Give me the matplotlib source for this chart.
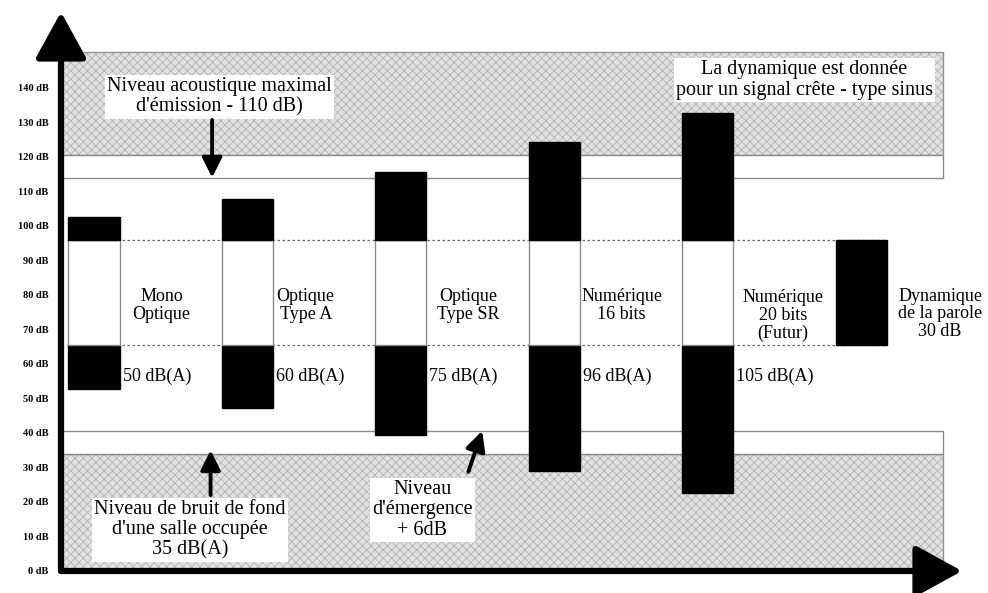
import numpy as np
import matplotlib
matplotlib.use('Agg')
import matplotlib.pyplot as plt

plt.rcParams['font.family'] = ['Liberation Serif', 'DejaVu Serif']
plt.rcParams['hatch.linewidth'] = 0.6

# chart data (dB)
names = ['Mono\nOptique', 'Optique\nType A', 'Optique\nType SR',
         'Numérique\n16 bits', 'Numérique\n20 bits\n(Futur)']
dyn_labels = ['50 dB(A)', '60 dB(A)', '75 dB(A)', '96 dB(A)', '105 dB(A)']
bar_bottom = [52.8, 47.2, 39.4, 29.0, 22.6]
bar_top = [102.6, 107.8, 115.7, 124.3, 132.8]
speech_low = 65.5
speech_high = 95.9
speech_label = 'Dynamique\nde la parole\n30 dB'
noise_floor = 34.0
emergence = 40.6
max_level = 114.0
top_zone = (120.5, 150.4)
yticks = list(range(0, 150, 10))

fig = plt.figure(figsize=(9.88, 5.93), dpi=100)
ax = fig.add_axes([61/988, 22/593, 901/988, 559/593])
ax.set_xlim(-0.215, 5.658)
ax.set_ylim(0, 162)
for s in ax.spines.values():
    s.set_visible(False)
ax.set_xticks([])
ax.set_yticks(yticks)
ax.set_yticklabels([f'{t} dB' for t in yticks], fontsize=7.5, fontweight='bold')
ax.tick_params(axis='y', length=0, pad=9)

x_right = 5.535
for y0, y1 in [top_zone, (0, noise_floor)]:
    ax.fill_between([-0.215, x_right], y0, y1, facecolor='#e2e2e2',
                    edgecolor='#b4b4b4', hatch='xxxx', lw=0, zorder=1)
    ax.fill_between([-0.215, x_right], y0, y1, facecolor='none',
                    edgecolor='#909090', lw=1, zorder=1)
ax.fill_between([-0.215, x_right], max_level, top_zone[0], facecolor='white',
                edgecolor='#8a8a8a', lw=1, zorder=1)
ax.fill_between([-0.215, x_right], noise_floor, emergence, facecolor='white',
                edgecolor='#8a8a8a', lw=1, zorder=1)

# dotted speech limits
for lvl in [speech_low, speech_high]:
    ax.plot([-0.176, 5.17], [lvl, lvl], color='#666666', lw=0.9,
            ls=(0, (2, 2)), zorder=2)

x = np.arange(len(names))
w = 0.333
bb = np.array(bar_bottom)
bt = np.array(bar_top)
ax.bar(x, speech_low - bb, w, bottom=bb, color='black', edgecolor='black', lw=1, zorder=3)
ax.bar(x, speech_high - speech_low, w, bottom=speech_low, color='white',
       edgecolor='#8a8a8a', lw=1, zorder=3)
ax.bar(x, bt - speech_high, w, bottom=speech_high, color='black', edgecolor='black', lw=1, zorder=3)
ax.bar([5], [speech_high - speech_low], w, bottom=speech_low, color='black',
       edgecolor='black', lw=1, zorder=3)

name_dx = [0.44, 0.38, 0.44, 0.44, 0.49]
name_y = [77, 77, 77, 77, 74]
for i in range(len(names)):
    ax.text(x[i] + name_dx[i], name_y[i], names[i], ha='center', va='center',
            fontsize=13, linespacing=1.05, zorder=5)
    ax.text(x[i] + w / 2 + 0.02, 56.5, dyn_labels[i], ha='left', va='center',
            fontsize=13, zorder=5)
ax.text(5 + 0.515, 74.5, speech_label, ha='center', va='center', fontsize=13,
        linespacing=1.05, zorder=5)

box = dict(facecolor='white', edgecolor='none', pad=1.5)
arr = dict(arrowstyle='-|>', lw=2.8, color='black', mutation_scale=30,
           shrinkA=0, shrinkB=0)
ax.text(0.82, 137.4, "Niveau acoustique maximal\nd'émission - 110 dB)", ha='center',
        va='center', fontsize=14.5, linespacing=1.1, bbox=box, zorder=6)
ax.annotate('', xy=(0.77, max_level), xytext=(0.77, 130.7), arrowprops=arr, zorder=6)

ax.text(4.63, 142.3, 'La dynamique est donnée\npour un signal crête - type sinus',
        ha='center', va='center', fontsize=14.5, linespacing=1.1, bbox=box, zorder=6)

ax.text(0.626, 11.9, "Niveau de bruit de fond\nd'une salle occupée\n35 dB(A)",
        ha='center', va='center', fontsize=14.5, linespacing=1.1, bbox=box, zorder=6)
ax.annotate('', xy=(0.76, noise_floor + 1), xytext=(0.76, 22), arrowprops=arr, zorder=6)

ax.text(2.14, 17.7, "Niveau\nd'émergence\n+ 6dB", ha='center', va='center',
        fontsize=14.5, linespacing=1.1, bbox=box, zorder=6)
ax.annotate('', xy=(2.53, emergence), xytext=(2.44, 28.7), arrowprops=arr, zorder=6)

# axis arrows
axis_arr = dict(arrowstyle='-|>,head_length=0.4,head_width=0.22', lw=4.5,
                color='black', mutation_scale=72, shrinkA=0, shrinkB=0)
ax.annotate('', xy=(0, 1), xytext=(0, 0), xycoords='axes fraction',
            arrowprops=axis_arr, annotation_clip=False, zorder=7)
ax.annotate('', xy=(1, 0), xytext=(0, 0), xycoords='axes fraction',
            arrowprops=axis_arr, annotation_clip=False, zorder=7)

fig.savefig('out.png', dpi=100)
